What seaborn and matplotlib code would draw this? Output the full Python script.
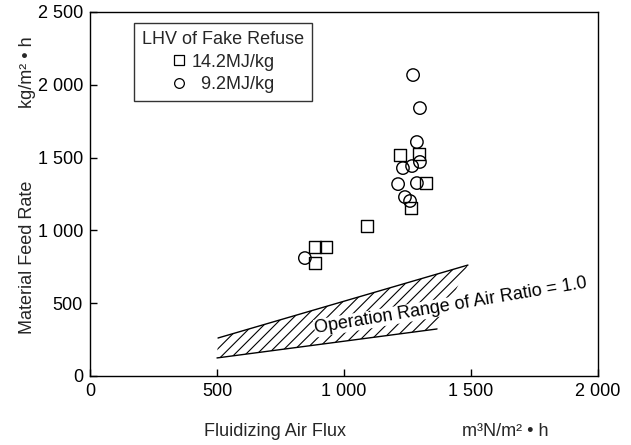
import matplotlib
matplotlib.use("Agg")
import matplotlib.pyplot as plt
import seaborn as sns
import pandas as pd
from matplotlib.lines import Line2D
from matplotlib.ticker import FuncFormatter

# data
sq_x = [886, 929, 886, 1091, 1220, 1295, 1323, 1264]
sq_y = [886, 886, 776, 1030, 1518, 1525, 1325, 1154]
ci_x = [846, 1272, 1299, 1287, 1299, 1268, 1232, 1213, 1287, 1240, 1260]
ci_y = [810, 2067, 1840, 1607, 1470, 1442, 1428, 1318, 1325, 1229, 1202]
labels = ["14.2MJ/kg", "9.2MJ/kg"]
band_top_x = [504, 1488]
band_top_y = [261, 762]
band_bot_x = [500, 1366]
band_bot_y = [124, 323]

sns.set_theme(style="ticks")
plt.rcParams['font.family'] = ['Liberation Sans', 'DejaVu Sans']
plt.rcParams['hatch.linewidth'] = 0.8

FS = 13

df = pd.DataFrame({
    "x": sq_x + ci_x,
    "y": sq_y + ci_y,
    "series": [labels[0]] * len(sq_x) + [labels[1]] * len(ci_x),
})

fig = plt.figure(figsize=(6.31, 4.45), dpi=100)
ax = fig.add_axes([90/631, 1 - 376/445, (598-90)/631, (376-12)/445])

# hatched operation band
poly_x = [band_bot_x[0], band_top_x[0], band_top_x[1], band_bot_x[1]]
poly_y = [band_bot_y[0], band_top_y[0], band_top_y[1], band_bot_y[1]]
ax.fill(poly_x, poly_y, facecolor='none', edgecolor='black', hatch='///', linewidth=0)
ax.plot(band_top_x, band_top_y, color='black', lw=1)
ax.plot(band_bot_x, band_bot_y, color='black', lw=1)
ax.text(1421, 481, "Operation Range of Air Ratio = 1.0", rotation=9.5,
        ha='center', va='center', fontsize=FS, color='black',
        bbox=dict(facecolor='white', edgecolor='none', pad=0.3), zorder=3)

sns.scatterplot(data=df, x="x", y="y", style="series",
                markers={labels[0]: 's', labels[1]: 'o'},
                facecolor='none', edgecolor='black', linewidth=1, s=80,
                legend=False, ax=ax, zorder=4)

ax.set_xlim(0, 2000)
ax.set_ylim(0, 2500)
ax.set_xticks([0, 500, 1000, 1500, 2000])
ax.set_yticks([0, 500, 1000, 1500, 2000, 2500])
fmt = FuncFormatter(lambda v, p: f"{int(v):,}".replace(",", " "))
ax.xaxis.set_major_formatter(fmt)
ax.yaxis.set_major_formatter(fmt)
ax.tick_params(direction='in', length=5, width=1, labelsize=FS, colors='black', pad=5)
ax.set_xlabel("")
ax.set_ylabel("")
for s in ax.spines.values():
    s.set_color('black')
    s.set_linewidth(1)

fig.text(275/631, 1 - 432/445, "Fluidizing Air Flux", ha='center', va='center', fontsize=FS)
fig.text(505/631, 1 - 432/445, "m³N/m² • h", ha='center', va='center', fontsize=FS)
fig.text(28/631, 1 - 257/445, "Material Feed Rate", ha='center', va='center', fontsize=FS, rotation=90)
fig.text(28/631, 1 - 72/445, "kg/m² • h", ha='center', va='center', fontsize=FS, rotation=90)

handles = [Line2D([], [], marker='s', ls='none', mfc='none', mec='black', ms=7, mew=0.9),
           Line2D([], [], marker='o', ls='none', mfc='none', mec='black', ms=7, mew=0.9)]
leg = ax.legend(handles, ["14.2MJ/kg", "  9.2MJ/kg"], title="LHV of Fake Refuse",
                loc='upper left', bbox_to_anchor=((134-90)/508, 1 - (23-12)/364),
                frameon=True, fancybox=False, fontsize=FS, title_fontsize=FS,
                handletextpad=0.3, handlelength=0.8, borderpad=0.45, labelspacing=0.3,
                borderaxespad=0, alignment='center')
leg.get_frame().set_edgecolor('black')
leg.get_frame().set_linewidth(1)

fig.savefig("out.png", dpi=100)
